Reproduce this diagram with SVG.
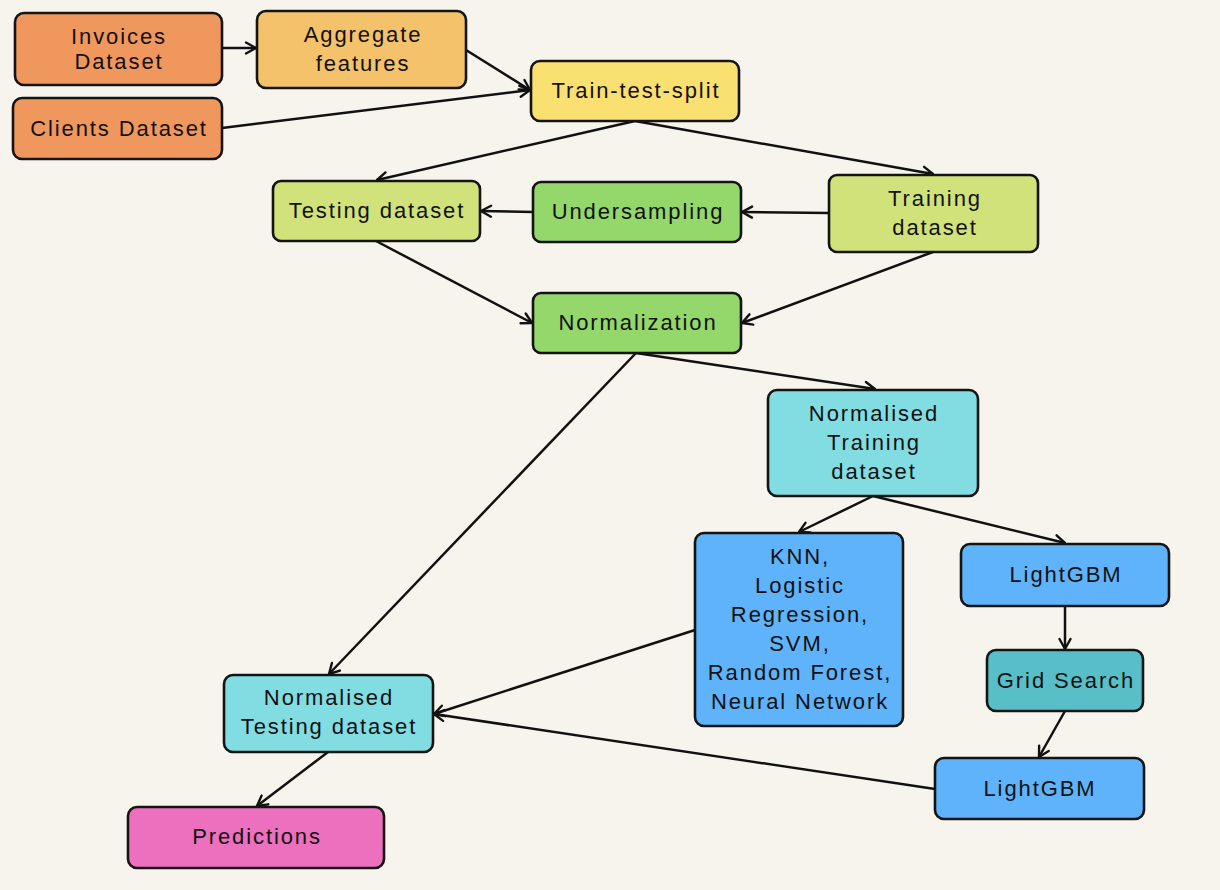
<svg xmlns="http://www.w3.org/2000/svg" width="1220" height="890" viewBox="0 0 1220 890">
<defs>
<style>
.n{stroke:#141414;stroke-width:2.6}
.t{font-family:"Liberation Sans",Arial,sans-serif;font-size:22px;letter-spacing:1.9px;fill:#111;text-anchor:middle}
.c{stroke:#111;stroke-width:2.5;fill:none;marker-end:url(#ah)}
</style>
<marker id="ah" viewBox="0 0 14 14" refX="13" refY="7" markerWidth="14" markerHeight="14" markerUnits="userSpaceOnUse" orient="auto">
<path d="M3,1.5 L13,7 L3,12.5" fill="none" stroke="#111" stroke-width="2.4" stroke-linecap="round" stroke-linejoin="round"/>
</marker>
</defs>
<rect width="1220" height="890" fill="#f6f4ec"/>
<g id="connectors">
<line class="c" x1="222" y1="48" x2="256" y2="48"/>
<line class="c" x1="466" y1="50" x2="530" y2="90"/>
<line class="c" x1="222" y1="128" x2="530" y2="90"/>
<line class="c" x1="635" y1="121" x2="377" y2="180"/>
<line class="c" x1="635" y1="121" x2="933" y2="174"/>
<line class="c" x1="829" y1="213" x2="742" y2="212"/>
<line class="c" x1="533" y1="212" x2="481" y2="211"/>
<line class="c" x1="376" y1="241" x2="532" y2="323"/>
<line class="c" x1="933" y1="252" x2="742" y2="323"/>
<line class="c" x1="636" y1="353" x2="875" y2="389"/>
<line class="c" x1="636" y1="353" x2="329" y2="674"/>
<line class="c" x1="873" y1="496" x2="799" y2="532"/>
<line class="c" x1="873" y1="496" x2="1065" y2="543"/>
<line class="c" x1="1065" y1="606" x2="1065" y2="649"/>
<line class="c" x1="1065" y1="711" x2="1039" y2="757"/>
<line class="c" x1="695" y1="630" x2="434" y2="714"/>
<line class="c" x1="935" y1="789" x2="434" y2="714"/>
<line class="c" x1="328" y1="752" x2="257" y2="806"/>
</g>
<g id="invoices"><rect class="n" x="15" y="13" width="207" height="72" rx="9" fill="#f0975e"/><text class="t" x="119" y="44">Invoices</text><text class="t" x="119" y="69">Dataset</text></g>
<g id="aggregate"><rect class="n" x="257" y="11" width="209" height="77" rx="9" fill="#f3c26a"/><text class="t" x="363" y="42">Aggregate</text><text class="t" x="363" y="71">features</text></g>
<g id="clients"><rect class="n" x="13" y="98" width="209" height="61" rx="9" fill="#f0975e"/><text class="t" x="119" y="136">Clients Dataset</text></g>
<g id="split"><rect class="n" x="531" y="61" width="208" height="60" rx="9" fill="#fadf71"/><text class="t" x="636" y="98">Train-test-split</text></g>
<g id="testing"><rect class="n" x="273" y="181" width="207" height="60" rx="8" fill="#d1e27a"/><text class="t" x="377" y="218">Testing dataset</text></g>
<g id="undersampling"><rect class="n" x="533" y="182" width="208" height="60" rx="8" fill="#94d76b"/><text class="t" x="638" y="219">Undersampling</text></g>
<g id="training"><rect class="n" x="829" y="175" width="209" height="77" rx="8" fill="#d1e27a"/><text class="t" x="935" y="206">Training</text><text class="t" x="935" y="235">dataset</text></g>
<g id="normalization"><rect class="n" x="533" y="293" width="208" height="60" rx="8" fill="#94d76b"/><text class="t" x="638" y="330">Normalization</text></g>
<g id="normtrain"><rect class="n" x="768" y="390" width="210" height="106" rx="9" fill="#82dde3"/><text class="t" x="874" y="421">Normalised</text><text class="t" x="874" y="450">Training</text><text class="t" x="874" y="479">dataset</text></g>
<g id="models"><rect class="n" x="695" y="533" width="208" height="193" rx="9" fill="#5fb3fa"/><text class="t" x="800" y="564">KNN,</text><text class="t" x="800" y="593">Logistic</text><text class="t" x="800" y="622">Regression,</text><text class="t" x="800" y="651">SVM,</text><text class="t" x="800" y="680">Random Forest,</text><text class="t" x="800" y="709">Neural Network</text></g>
<g id="lightgbm1"><rect class="n" x="961" y="544" width="208" height="62" rx="9" fill="#5fb3fa"/><text class="t" x="1066" y="582">LightGBM</text></g>
<g id="gridsearch"><rect class="n" x="987" y="650" width="156" height="61" rx="9" fill="#58bfc8"/><text class="t" x="1066" y="688">Grid Search</text></g>
<g id="lightgbm2"><rect class="n" x="935" y="758" width="209" height="61" rx="9" fill="#5fb3fa"/><text class="t" x="1040" y="796">LightGBM</text></g>
<g id="normtest"><rect class="n" x="224" y="675" width="209" height="77" rx="9" fill="#82dde3"/><text class="t" x="329" y="705">Normalised</text><text class="t" x="329" y="734">Testing dataset</text></g>
<g id="predictions"><rect class="n" x="128" y="807" width="256" height="61" rx="9" fill="#ed70bf"/><text class="t" x="257" y="844">Predictions</text></g>
</svg>
